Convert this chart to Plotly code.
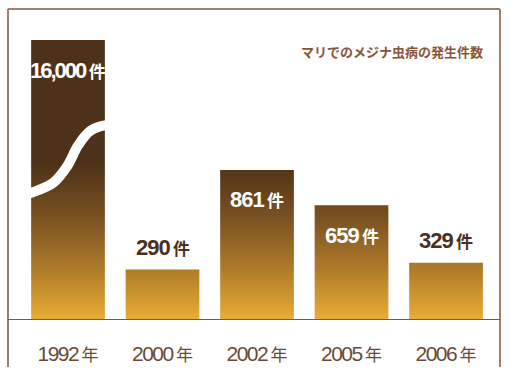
import plotly.graph_objects as go

# ---- data ----
years = ["1992", "2000", "2002", "2005", "2006"]
year_suffix = "年"
cases = [16000, 290, 861, 659, 329]
unit = "件"
title_text = "マリでのメジナ虫病の発生件数"

# visual cap for the broken (truncated) first bar, in axis units
BREAK_CAP = 1607
Y_MAX = 1785
BAR_W = 0.78

x_pos = list(range(len(years)))
disp = [min(v, BREAK_CAP) for v in cases]

# bar polygons built from data values
px, py = [], []
for xi, h in zip(x_pos, disp):
    l, r = xi - BAR_W / 2, xi + BAR_W / 2
    px += [l, r, r, l, l, None]
    py += [0, 0, h, h, 0, None]

fig = go.Figure()
fig.add_trace(go.Scatter(
    x=px, y=py, mode="lines", fill="toself",
    line=dict(width=0, color="rgba(0,0,0,0)"),
    fillgradient=dict(type="vertical", start=0, stop=900,
                      colorscale=[[0, "#ecad36"], [0.32, "#ae7c2a"],
                                  [0.65, "#7a5222"], [1, "#4d3118"]]),
    hoverinfo="skip", showlegend=False,
))

# white wave marking the break in the first bar (relative to bar 0)
wave_fx = [-0.55, -0.49, -0.2, -0.01, 0.14, 0.3, 0.5, 0.56]
wave_fy = [0.45, 0.455, 0.49, 0.55, 0.625, 0.675, 0.695, 0.695]
fig.add_trace(go.Scatter(
    x=[x_pos[0] + f * BAR_W for f in wave_fx],
    y=[BREAK_CAP * f for f in wave_fy],
    mode="lines", line=dict(color="white", width=10, shape="spline", smoothing=1.0),
    hoverinfo="skip", showlegend=False,
))

# value labels
num_font = "Liberation Sans, Noto Sans CJK JP"
for xi, v, h in zip(x_pos, cases, disp):
    inside = v > 500
    s = f"{v:,}"
    ls = -2 if len(s) > 4 else -1
    txt = (f"<b><span style='letter-spacing:{ls}px'>{s}</span>"
           f"<span style='font-size:17px'>\u2009{unit}</span></b>")
    fig.add_annotation(
        x=xi, y=h, xref="x", yref="y", text=txt, showarrow=False,
        yanchor="middle", xanchor="center",
        yshift=-30 if inside else 22,
        font=dict(family=num_font, size=22, color="white" if inside else "#4a3020"),
    )

# title
fig.add_annotation(
    x=0.9695, y=0.862, xref="paper", yref="paper", text=f"<b>{title_text}</b>",
    showarrow=False, xanchor="right", yanchor="middle",
    font=dict(family="Noto Sans CJK JP", size=13, color="#8a5535"),
)

# frame lines (top, left, right)
frame_col = "#a0806c"
fig.add_shape(type="line", xref="paper", yref="paper", x0=0, x1=1, y0=1, y1=1,
              line=dict(color=frame_col, width=2))
fig.add_shape(type="line", xref="paper", yref="paper", x0=0, x1=0, y0=-0.151, y1=1,
              line=dict(color=frame_col, width=2))
fig.add_shape(type="line", xref="paper", yref="paper", x0=1, x1=1, y0=-0.151, y1=1,
              line=dict(color=frame_col, width=2))
# baseline
fig.add_shape(type="line", xref="paper", yref="y", x0=0, x1=1, y0=0, y1=0,
              line=dict(color="#7a5a45", width=2))

ticktext = [f"<span style='letter-spacing:-1.5px'>{y}</span>"
            f"<span style='font-size:17px'>\u2009{year_suffix}</span>" for y in years]

fig.update_layout(
    width=510, height=379,
    margin=dict(l=8, r=10, t=9, b=59),
    paper_bgcolor="white", plot_bgcolor="white",
    xaxis=dict(range=[-0.635, 4.571], tickmode="array", tickvals=x_pos,
               ticktext=ticktext,
               showgrid=False, zeroline=False, showline=False, ticks="",
               ticklabelstandoff=19,
               tickfont=dict(family=num_font, size=21, color="#6a4a35"),
               fixedrange=True),
    yaxis=dict(range=[0, Y_MAX], visible=False, fixedrange=True),
    showlegend=False,
)

fig.write_html("out.html", config={"displayModeBar": False},
               post_script="document.body.style.margin='0';")
